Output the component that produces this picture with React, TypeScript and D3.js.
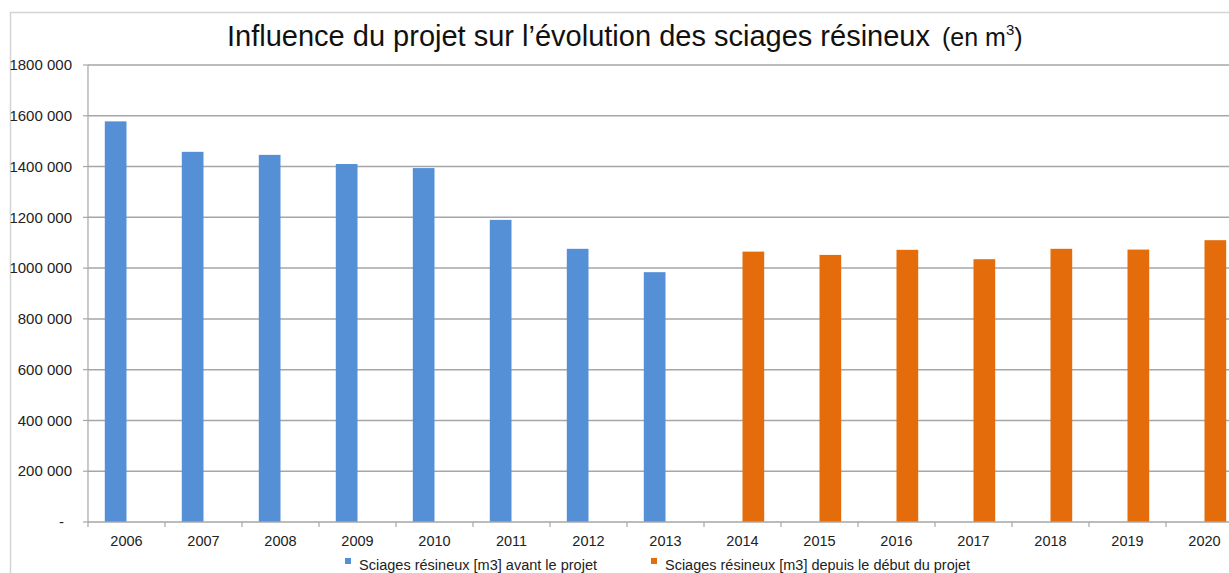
import React from "react";
import * as d3 from "d3";

const years = ["2006","2007","2008","2009","2010","2011","2012","2013","2014","2015","2016","2017","2018","2019","2020"];
const avantProjet: (number | null)[] = [1578000, 1458000, 1446000, 1410000, 1394000, 1190000, 1076000, 984000, null, null, null, null, null, null, null];
const depuisProjet: (number | null)[] = [null, null, null, null, null, null, null, null, 1065000, 1052000, 1072000, 1035000, 1076000, 1073000, 1110000];
const yTicks = [0, 200000, 400000, 600000, 800000, 1000000, 1200000, 1400000, 1600000, 1800000];
const yTickLabels = ["-", "200 000", "400 000", "600 000", "800 000", "1000 000", "1200 000", "1400 000", "1600 000", "1800 000"];
const seriesNames = ["Sciages résineux [m3] avant le projet", "Sciages résineux [m3] depuis le début du projet"];
const seriesColors = ["#5590d6", "#e46c0a"];

export default function App() {
  const W = 1229, H = 573;
  const left = 88, top = 65, bottom = 522;
  const step = 77;
  const x = d3.scaleBand<string>().domain(years).range([left, left + step * years.length]).paddingInner(0).paddingOuter(0);
  const xs = d3.scaleBand<string>().domain(["a", "d"]).range([0, x.bandwidth()]).paddingInner(0).paddingOuter(0.774);
  const y = d3.scaleLinear().domain([0, 1800000]).range([bottom, top]);
  const font = "'Liberation Sans', Arial, sans-serif";
  const series = [avantProjet, depuisProjet];
  const keys = ["a", "d"];
  const legendX = [345, 651];
  const legendW = [238, 305];
  return (
    <svg width={W} height={H} style={{ position: "absolute", left: 0, top: 0, display: "block", background: "#fff" }}>
      <rect x={10.5} y={12.5} width={W + 20} height={H + 20} fill="#fff" stroke="#d4d4d4" strokeWidth={1.5} />
      <text x={227} y={46} fontFamily={font} fill="#111">
        <tspan fontSize={29} textLength={703} lengthAdjust="spacingAndGlyphs">Influence du projet sur l’évolution des sciages résineux</tspan>
        <tspan x={942} fontSize={25}>(en m</tspan>
        <tspan fontSize={15} dy={-11}>3</tspan>
        <tspan fontSize={25} dy={11}>)</tspan>
      </text>
      {yTicks.map((t, i) => (
        <g key={t}>
          {i > 0 && <line x1={left} x2={W} y1={y(t)} y2={y(t)} stroke="#a6a6a6" strokeWidth={1.5} />}
          <line x1={left - 5} x2={left} y1={y(t)} y2={y(t)} stroke="#a6a6a6" strokeWidth={1.2} />
          <text x={i === 0 ? 64 : 72} y={y(t)} dy="0.35em" textAnchor="end" fontFamily={font} fontSize={15} fill="#222">{yTickLabels[i]}</text>
        </g>
      ))}
      {series.map((s, si) =>
        s.map((v, i) =>
          v == null ? null : (
            <rect key={si + "-" + i} x={(x(years[i]) as number) + (xs(keys[si]) as number)} width={xs.bandwidth()} y={y(v)} height={y(0) - y(v)} fill={seriesColors[si]} />
          )
        )
      )}
      <line x1={left} x2={left} y1={top} y2={bottom} stroke="#a6a6a6" strokeWidth={1.2} />
      <line x1={left} x2={W} y1={bottom} y2={bottom} stroke="#a6a6a6" strokeWidth={1.5} />
      {years.map((yr) => (
        <g key={yr}>
          <line x1={(x(yr) as number)} x2={(x(yr) as number)} y1={bottom} y2={bottom + 5} stroke="#a6a6a6" strokeWidth={1.2} />
          <text x={(x(yr) as number) + x.bandwidth() / 2} y={546} textAnchor="middle" fontFamily={font} fontSize={14.5} fill="#222">{yr}</text>
        </g>
      ))}
      {seriesNames.map((n, i) => (
        <g key={n}>
          <rect x={legendX[i]} y={558} width={6} height={6} fill={seriesColors[i]} />
          <text x={legendX[i] + 14} y={570} fontFamily={font} fontSize={15.5} textLength={legendW[i]} lengthAdjust="spacingAndGlyphs" fill="#222">{n}</text>
        </g>
      ))}
    </svg>
  );
}
